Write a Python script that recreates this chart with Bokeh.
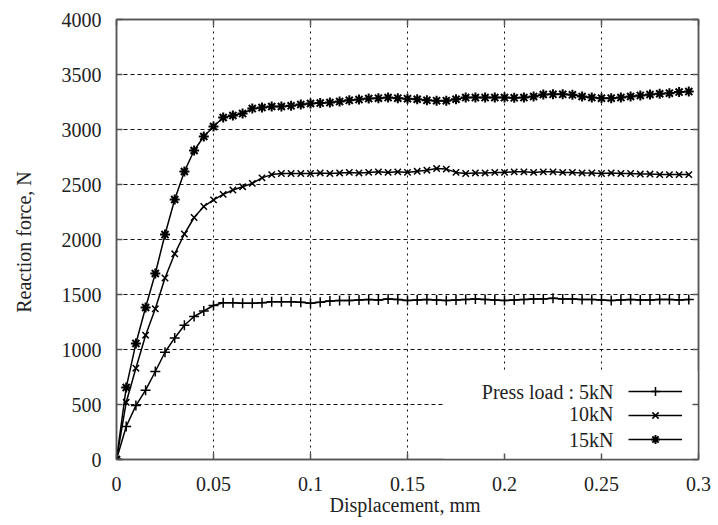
from bokeh.plotting import figure
from bokeh.models import (FixedTicker, LinearAxis, Range1d, Legend, LegendItem,
                          Label, BoxAnnotation)
from bokeh.embed import file_html
from bokeh.resources import INLINE

# ---------------- data ----------------
displacement = [0.000, 0.005, 0.010, 0.015, 0.020, 0.025, 0.030, 0.035, 0.040, 0.045,
                0.050, 0.055, 0.060, 0.065, 0.070, 0.075, 0.080, 0.085, 0.090, 0.095,
                0.100, 0.105, 0.110, 0.115, 0.120, 0.125, 0.130, 0.135, 0.140, 0.145,
                0.150, 0.155, 0.160, 0.165, 0.170, 0.175, 0.180, 0.185, 0.190, 0.195,
                0.200, 0.205, 0.210, 0.215, 0.220, 0.225, 0.230, 0.235, 0.240, 0.245,
                0.250, 0.255, 0.260, 0.265, 0.270, 0.275, 0.280, 0.285, 0.290, 0.295]

force_5kN = [0, 300, 490, 630, 800, 975, 1105, 1220, 1300, 1350,
             1400, 1425, 1425, 1420, 1420, 1425, 1435, 1435, 1435, 1430,
             1420, 1430, 1440, 1445, 1445, 1450, 1455, 1450, 1460, 1455,
             1445, 1450, 1455, 1450, 1445, 1450, 1455, 1460, 1455, 1450,
             1445, 1450, 1455, 1460, 1460, 1465, 1460, 1460, 1455, 1455,
             1450, 1445, 1450, 1455, 1450, 1450, 1455, 1455, 1450, 1455]

force_10kN = [0, 520, 830, 1130, 1370, 1650, 1870, 2050, 2200, 2300,
              2360, 2410, 2450, 2480, 2510, 2560, 2590, 2600, 2600, 2600,
              2600, 2605, 2600, 2605, 2610, 2605, 2610, 2615, 2610, 2615,
              2610, 2620, 2630, 2645, 2640, 2610, 2600, 2605, 2605, 2610,
              2610, 2615, 2615, 2610, 2615, 2615, 2610, 2610, 2605, 2605,
              2600, 2605, 2600, 2600, 2595, 2595, 2590, 2590, 2590, 2590]

force_15kN = [0, 654, 1055, 1382, 1691, 2045, 2364, 2618, 2809, 2936,
              3027, 3109, 3127, 3145, 3190, 3200, 3209, 3209, 3215, 3227,
              3236, 3240, 3245, 3254, 3265, 3272, 3281, 3285, 3290, 3285,
              3280, 3275, 3265, 3262, 3262, 3275, 3290, 3290, 3290, 3290,
              3290, 3288, 3290, 3300, 3318, 3320, 3320, 3315, 3300, 3290,
              3285, 3285, 3290, 3300, 3310, 3318, 3325, 3330, 3340, 3345]

series_labels = ["Press load : 5kN", "10kN", "15kN"]
series_markers = ["cross", "x", "asterisk"]

x_ticks = [0, 0.05, 0.1, 0.15, 0.2, 0.25, 0.3]
x_tick_labels = ["0", "0.05", "0.1", "0.15", "0.2", "0.25", "0.3"]
y_ticks = [0, 500, 1000, 1500, 2000, 2500, 3000, 3500, 4000]
y_tick_labels = ["0", "500", "1000", "1500", "2000", "2500", "3000", "3500", "4000"]

x_title = "Displacement,  mm"
y_title = "Reaction force,  N"

# ---------------- figure ----------------
FONT = "Liberation Serif"
FS = "20px"
FRAME_COL = "#555555"
TXT_COL = "#222222"

p = figure(width=712, height=522, x_range=Range1d(0, 0.3), y_range=Range1d(0, 4000),
           output_backend="svg", toolbar_location=None,
           min_border_left=116, min_border_right=14, min_border_top=19, min_border_bottom=63,
           background_fill_color="white", border_fill_color="white")

p.outline_line_color = FRAME_COL
p.outline_line_width = 1.5

# main axes
for ax, ticks, labels, title in ((p.xaxis[0], x_ticks, x_tick_labels, x_title),
                                 (p.yaxis[0], y_ticks, y_tick_labels, y_title)):
    ax.ticker = FixedTicker(ticks=ticks)
    ax.major_label_overrides = {t: l for t, l in zip(ticks, labels)}
    ax.axis_label = title
    ax.axis_label_text_font = FONT
    ax.axis_label_text_font_size = FS
    ax.axis_label_text_font_style = "normal"
    ax.axis_label_text_color = TXT_COL
    ax.major_label_text_font = FONT
    ax.major_label_text_font_size = FS
    ax.major_label_text_color = TXT_COL
    ax.major_tick_in = 6
    ax.major_tick_out = 0
    ax.minor_tick_line_color = None
    ax.axis_line_color = FRAME_COL
    ax.axis_line_width = 1.5
    ax.major_tick_line_color = FRAME_COL
    ax.major_tick_line_width = 1.5

p.xaxis[0].major_label_standoff = 17
p.xaxis[0].axis_label_standoff = 0
p.yaxis[0].major_label_standoff = 15
p.yaxis[0].axis_label_standoff = 24

# mirrored axes (inward ticks only, no labels)
top_ax = LinearAxis(ticker=FixedTicker(ticks=x_ticks))
right_ax = LinearAxis(ticker=FixedTicker(ticks=y_ticks))
for ax, ticks in ((top_ax, x_ticks), (right_ax, y_ticks)):
    ax.major_label_overrides = {t: "" for t in ticks}
    ax.major_label_standoff = 0
    ax.major_tick_in = 6
    ax.major_tick_out = 0
    ax.minor_tick_line_color = None
    ax.axis_line_color = FRAME_COL
    ax.axis_line_width = 1.5
    ax.major_tick_line_color = FRAME_COL
    ax.major_tick_line_width = 1.5
p.add_layout(top_ax, "above")
p.add_layout(right_ax, "right")

# grid
p.xgrid.ticker = FixedTicker(ticks=x_ticks)
p.ygrid.ticker = FixedTicker(ticks=y_ticks)
p.xgrid.grid_line_color = "#111111"
p.ygrid.grid_line_color = "#111111"
p.xgrid.grid_line_dash = "2 4"
p.ygrid.grid_line_dash = "4 3"
p.xgrid.grid_line_width = 1
p.ygrid.grid_line_width = 1

# white legend background that hides the grid
legend_bg = BoxAnnotation(left=0.1686, top=810, fill_color="white", fill_alpha=1.0,
                          line_alpha=0, level="underlay")
p.add_layout(legend_bg)

# series
items = []
for ys, marker, msize, mlw in ((force_5kN, series_markers[0], 10, 1.5),
                               (force_10kN, series_markers[1], 9, 1.5),
                               (force_15kN, series_markers[2], 10, 2.0)):
    ln = p.line(displacement, ys, line_color="black", line_width=1.5)
    sc = p.scatter(displacement, ys, marker=marker, size=msize, line_color="black",
                   fill_color="black", line_width=mlw)
    items.append(LegendItem(label=" ", renderers=[ln, sc]))

legend = Legend(items=items, location=(512, 9), glyph_width=54, glyph_height=22,
                label_width=0, label_height=22, label_standoff=0, spacing=2, padding=0,
                margin=0, border_line_alpha=0, background_fill_alpha=0,
                label_text_font=FONT, label_text_font_size=FS)
p.add_layout(legend)

# legend texts (right aligned, left of glyphs)
row_y = [68, 46, 20]
for txt, yy in zip(series_labels, row_y):
    p.add_layout(Label(x=497, y=yy, x_units="screen", y_units="screen", text=txt,
                       text_align="right", text_baseline="middle", text_font=FONT,
                       text_font_size=FS, text_color=TXT_COL))

open("out.html", "w").write(file_html(p, INLINE))
